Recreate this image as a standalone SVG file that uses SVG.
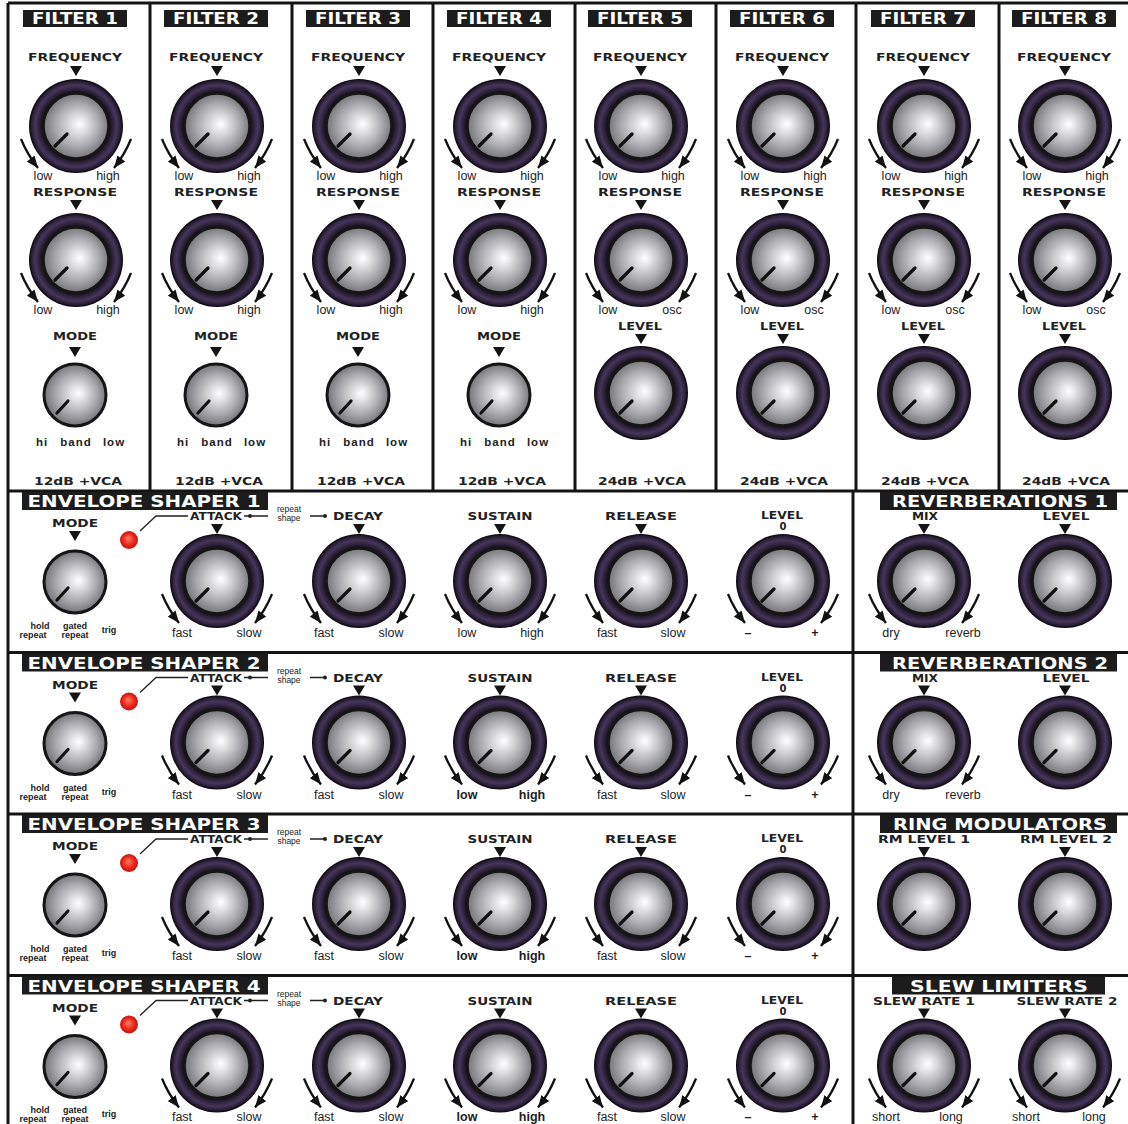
<svg xmlns="http://www.w3.org/2000/svg" width="1128" height="1124" viewBox="0 0 1128 1124">
<style>
.ln{stroke:#141414;stroke-width:3;fill:none}
.hb{fill:#1c1c1c}
.ht{font-family:"DejaVu Sans",sans-serif;font-weight:bold;font-size:15px;fill:#fff;text-anchor:middle}
.lb{font-family:"DejaVu Sans",sans-serif;font-weight:bold;font-size:10px;fill:#222;text-anchor:middle}
.sm{font-family:"Liberation Sans",sans-serif;font-size:12.5px;fill:#1e1e1e;text-anchor:middle}
.smb{font-family:"Liberation Sans",sans-serif;font-size:12.5px;font-weight:bold;fill:#1e1e1e;text-anchor:middle}
.hb2{font-family:"Liberation Sans",sans-serif;font-size:11.5px;font-weight:bold;fill:#222;text-anchor:middle;letter-spacing:1px}
.tiny{font-family:"Liberation Sans",sans-serif;font-size:9px;font-weight:bold;fill:#222;text-anchor:middle}
.tiny2{font-family:"Liberation Sans",sans-serif;font-size:8.5px;fill:#222;text-anchor:middle}
.ar path{stroke:#111;stroke-width:2.3;fill:none;marker-end:url(#ah)}
.cn{stroke:#222;stroke-width:1.3;fill:none}
</style>
<defs>
<radialGradient id="gRing" cx="0.5" cy="0.5" r="0.5">
<stop offset="0.68" stop-color="#0e0a12"/>
<stop offset="0.78" stop-color="#2c2038"/>
<stop offset="0.87" stop-color="#45365a"/>
<stop offset="0.95" stop-color="#281d34"/>
<stop offset="1" stop-color="#060506"/>
</radialGradient>
<radialGradient id="gKnob" cx="0.5" cy="0.5" r="0.55" fx="0.56" fy="0.47">
<stop offset="0" stop-color="#ffffff"/>
<stop offset="0.2" stop-color="#e4e4e6"/>
<stop offset="0.6" stop-color="#a9a9ad"/>
<stop offset="1" stop-color="#66666a"/>
</radialGradient>
<radialGradient id="gLed" cx="0.5" cy="0.5" r="0.5" fx="0.45" fy="0.4">
<stop offset="0" stop-color="#ff8060"/>
<stop offset="0.6" stop-color="#ee2a1e"/>
<stop offset="1" stop-color="#c4140e"/>
</radialGradient>
<marker id="ah" viewBox="0 0 12 10" refX="12" refY="5" markerWidth="12" markerHeight="10" markerUnits="userSpaceOnUse" orient="auto">
<path d="M0,0 L12,5 L0,10 Z" fill="#111"/>
</marker>
<g id="bk">
<circle r="47" fill="url(#gRing)"/>
<circle r="33" fill="url(#gKnob)" stroke="#151515" stroke-width="3.5"/>
<line x1="-9" y1="8" x2="-21" y2="20" stroke="#111" stroke-width="3.2" stroke-linecap="round"/>
</g>
<g id="mk">
<circle r="31" fill="url(#gKnob)" stroke="#151515" stroke-width="3"/>
<line x1="-7" y1="6" x2="-18" y2="18" stroke="#111" stroke-width="3.2" stroke-linecap="round"/>
</g>
<g id="arr" class="ar">
<path d="M-55,13 Q-49,28 -38,42"/>
<path d="M55,13 Q49,28 38,42"/>
</g>
<path id="tri" d="M-6,0 L6,0 L0,10 Z" fill="#141414"/>
</defs>
<rect width="1128" height="1124" fill="#ffffff"/>

<g id="panel-lines">
<path class="ln" d="M8,3 H1128 M8,3 V1124 M150,3 V491 M292,3 V491 M433,3 V491 M575,3 V491 M716,3 V491 M856,3 V491 M999,3 V491"/>
<path class="ln" d="M8,491 H1128 M8,652.5 H1128 M8,814 H1128 M8,975.5 H1128 M853,491 V1124"/>
</g>

<g id="filter1">
<rect class="hb" x="23" y="10" width="104" height="17"/>
<text class="ht" x="75" y="24" textLength="86" lengthAdjust="spacingAndGlyphs">FILTER 1</text>
<text class="lb" x="75" y="61" textLength="94" lengthAdjust="spacingAndGlyphs">FREQUENCY</text>
<use href="#tri" x="76" y="66"/><use href="#bk" x="76" y="126"/><use href="#arr" x="76" y="126"/>
<text class="sm" x="43" y="180">low</text><text class="sm" x="108" y="180">high</text>
<text class="lb" x="75" y="196" textLength="84" lengthAdjust="spacingAndGlyphs">RESPONSE</text>
<use href="#tri" x="76" y="200"/><use href="#bk" x="76" y="260"/><use href="#arr" x="76" y="260"/>
<text class="sm" x="43" y="314">low</text><text class="sm" x="108" y="314">high</text>
<text class="lb" x="75" y="340" textLength="44" lengthAdjust="spacingAndGlyphs">MODE</text>
<use href="#tri" x="75" y="347"/><use href="#mk" x="75" y="395"/>
<text class="hb2" x="42" y="446">hi</text><text class="hb2" x="76" y="446">band</text><text class="hb2" x="114" y="446">low</text>
<text class="lb" x="78" y="485" textLength="88" lengthAdjust="spacingAndGlyphs">12dB +VCA</text>
</g>

<g id="filter2">
<rect class="hb" x="164" y="10" width="104" height="17"/>
<text class="ht" x="216" y="24" textLength="86" lengthAdjust="spacingAndGlyphs">FILTER 2</text>
<text class="lb" x="216" y="61" textLength="94" lengthAdjust="spacingAndGlyphs">FREQUENCY</text>
<use href="#tri" x="217" y="66"/><use href="#bk" x="217" y="126"/><use href="#arr" x="217" y="126"/>
<text class="sm" x="184" y="180">low</text><text class="sm" x="249" y="180">high</text>
<text class="lb" x="216" y="196" textLength="84" lengthAdjust="spacingAndGlyphs">RESPONSE</text>
<use href="#tri" x="217" y="200"/><use href="#bk" x="217" y="260"/><use href="#arr" x="217" y="260"/>
<text class="sm" x="184" y="314">low</text><text class="sm" x="249" y="314">high</text>
<text class="lb" x="216" y="340" textLength="44" lengthAdjust="spacingAndGlyphs">MODE</text>
<use href="#tri" x="216" y="347"/><use href="#mk" x="216" y="395"/>
<text class="hb2" x="183" y="446">hi</text><text class="hb2" x="217" y="446">band</text><text class="hb2" x="255" y="446">low</text>
<text class="lb" x="219" y="485" textLength="88" lengthAdjust="spacingAndGlyphs">12dB +VCA</text>
</g>

<g id="filter3">
<rect class="hb" x="306" y="10" width="104" height="17"/>
<text class="ht" x="358" y="24" textLength="86" lengthAdjust="spacingAndGlyphs">FILTER 3</text>
<text class="lb" x="358" y="61" textLength="94" lengthAdjust="spacingAndGlyphs">FREQUENCY</text>
<use href="#tri" x="359" y="66"/><use href="#bk" x="359" y="126"/><use href="#arr" x="359" y="126"/>
<text class="sm" x="326" y="180">low</text><text class="sm" x="391" y="180">high</text>
<text class="lb" x="358" y="196" textLength="84" lengthAdjust="spacingAndGlyphs">RESPONSE</text>
<use href="#tri" x="359" y="200"/><use href="#bk" x="359" y="260"/><use href="#arr" x="359" y="260"/>
<text class="sm" x="326" y="314">low</text><text class="sm" x="391" y="314">high</text>
<text class="lb" x="358" y="340" textLength="44" lengthAdjust="spacingAndGlyphs">MODE</text>
<use href="#tri" x="358" y="347"/><use href="#mk" x="358" y="395"/>
<text class="hb2" x="325" y="446">hi</text><text class="hb2" x="359" y="446">band</text><text class="hb2" x="397" y="446">low</text>
<text class="lb" x="361" y="485" textLength="88" lengthAdjust="spacingAndGlyphs">12dB +VCA</text>
</g>

<g id="filter4">
<rect class="hb" x="447" y="10" width="104" height="17"/>
<text class="ht" x="499" y="24" textLength="86" lengthAdjust="spacingAndGlyphs">FILTER 4</text>
<text class="lb" x="499" y="61" textLength="94" lengthAdjust="spacingAndGlyphs">FREQUENCY</text>
<use href="#tri" x="500" y="66"/><use href="#bk" x="500" y="126"/><use href="#arr" x="500" y="126"/>
<text class="sm" x="467" y="180">low</text><text class="sm" x="532" y="180">high</text>
<text class="lb" x="499" y="196" textLength="84" lengthAdjust="spacingAndGlyphs">RESPONSE</text>
<use href="#tri" x="500" y="200"/><use href="#bk" x="500" y="260"/><use href="#arr" x="500" y="260"/>
<text class="sm" x="467" y="314">low</text><text class="sm" x="532" y="314">high</text>
<text class="lb" x="499" y="340" textLength="44" lengthAdjust="spacingAndGlyphs">MODE</text>
<use href="#tri" x="499" y="347"/><use href="#mk" x="499" y="395"/>
<text class="hb2" x="466" y="446">hi</text><text class="hb2" x="500" y="446">band</text><text class="hb2" x="538" y="446">low</text>
<text class="lb" x="502" y="485" textLength="88" lengthAdjust="spacingAndGlyphs">12dB +VCA</text>
</g>

<g id="filter5">
<rect class="hb" x="588" y="10" width="104" height="17"/>
<text class="ht" x="640" y="24" textLength="86" lengthAdjust="spacingAndGlyphs">FILTER 5</text>
<text class="lb" x="640" y="61" textLength="94" lengthAdjust="spacingAndGlyphs">FREQUENCY</text>
<use href="#tri" x="641" y="66"/><use href="#bk" x="641" y="126"/><use href="#arr" x="641" y="126"/>
<text class="sm" x="608" y="180">low</text><text class="sm" x="673" y="180">high</text>
<text class="lb" x="640" y="196" textLength="84" lengthAdjust="spacingAndGlyphs">RESPONSE</text>
<use href="#tri" x="641" y="200"/><use href="#bk" x="641" y="260"/><use href="#arr" x="641" y="260"/>
<text class="sm" x="608" y="314">low</text><text class="sm" x="672" y="314">osc</text>
<text class="lb" x="640" y="330" textLength="44" lengthAdjust="spacingAndGlyphs">LEVEL</text>
<use href="#tri" x="641" y="334"/><use href="#bk" x="641" y="393"/>
<text class="lb" x="642" y="485" textLength="88" lengthAdjust="spacingAndGlyphs">24dB +VCA</text>
</g>

<g id="filter6">
<rect class="hb" x="730" y="10" width="104" height="17"/>
<text class="ht" x="782" y="24" textLength="86" lengthAdjust="spacingAndGlyphs">FILTER 6</text>
<text class="lb" x="782" y="61" textLength="94" lengthAdjust="spacingAndGlyphs">FREQUENCY</text>
<use href="#tri" x="783" y="66"/><use href="#bk" x="783" y="126"/><use href="#arr" x="783" y="126"/>
<text class="sm" x="750" y="180">low</text><text class="sm" x="815" y="180">high</text>
<text class="lb" x="782" y="196" textLength="84" lengthAdjust="spacingAndGlyphs">RESPONSE</text>
<use href="#tri" x="783" y="200"/><use href="#bk" x="783" y="260"/><use href="#arr" x="783" y="260"/>
<text class="sm" x="750" y="314">low</text><text class="sm" x="814" y="314">osc</text>
<text class="lb" x="782" y="330" textLength="44" lengthAdjust="spacingAndGlyphs">LEVEL</text>
<use href="#tri" x="783" y="334"/><use href="#bk" x="783" y="393"/>
<text class="lb" x="784" y="485" textLength="88" lengthAdjust="spacingAndGlyphs">24dB +VCA</text>
</g>

<g id="filter7">
<rect class="hb" x="871" y="10" width="104" height="17"/>
<text class="ht" x="923" y="24" textLength="86" lengthAdjust="spacingAndGlyphs">FILTER 7</text>
<text class="lb" x="923" y="61" textLength="94" lengthAdjust="spacingAndGlyphs">FREQUENCY</text>
<use href="#tri" x="924" y="66"/><use href="#bk" x="924" y="126"/><use href="#arr" x="924" y="126"/>
<text class="sm" x="891" y="180">low</text><text class="sm" x="956" y="180">high</text>
<text class="lb" x="923" y="196" textLength="84" lengthAdjust="spacingAndGlyphs">RESPONSE</text>
<use href="#tri" x="924" y="200"/><use href="#bk" x="924" y="260"/><use href="#arr" x="924" y="260"/>
<text class="sm" x="891" y="314">low</text><text class="sm" x="955" y="314">osc</text>
<text class="lb" x="923" y="330" textLength="44" lengthAdjust="spacingAndGlyphs">LEVEL</text>
<use href="#tri" x="924" y="334"/><use href="#bk" x="924" y="393"/>
<text class="lb" x="925" y="485" textLength="88" lengthAdjust="spacingAndGlyphs">24dB +VCA</text>
</g>

<g id="filter8">
<rect class="hb" x="1012" y="10" width="104" height="17"/>
<text class="ht" x="1064" y="24" textLength="86" lengthAdjust="spacingAndGlyphs">FILTER 8</text>
<text class="lb" x="1064" y="61" textLength="94" lengthAdjust="spacingAndGlyphs">FREQUENCY</text>
<use href="#tri" x="1065" y="66"/><use href="#bk" x="1065" y="126"/><use href="#arr" x="1065" y="126"/>
<text class="sm" x="1032" y="180">low</text><text class="sm" x="1097" y="180">high</text>
<text class="lb" x="1064" y="196" textLength="84" lengthAdjust="spacingAndGlyphs">RESPONSE</text>
<use href="#tri" x="1065" y="200"/><use href="#bk" x="1065" y="260"/><use href="#arr" x="1065" y="260"/>
<text class="sm" x="1032" y="314">low</text><text class="sm" x="1096" y="314">osc</text>
<text class="lb" x="1064" y="330" textLength="44" lengthAdjust="spacingAndGlyphs">LEVEL</text>
<use href="#tri" x="1065" y="334"/><use href="#bk" x="1065" y="393"/>
<text class="lb" x="1066" y="485" textLength="88" lengthAdjust="spacingAndGlyphs">24dB +VCA</text>
</g>

<g id="envelope1">
<rect class="hb" x="22" y="492" width="246" height="18"/>
<text class="ht" x="144" y="507" textLength="233" lengthAdjust="spacingAndGlyphs">ENVELOPE SHAPER 1</text>
<text class="lb" x="75" y="527" textLength="46" lengthAdjust="spacingAndGlyphs">MODE</text>
<use href="#tri" x="75" y="531"/><use href="#mk" x="75" y="582"/>
<text class="tiny" x="40" y="629">hold</text><text class="tiny" x="33" y="638">repeat</text>
<text class="tiny" x="75" y="629">gated</text><text class="tiny" x="75" y="638">repeat</text>
<text class="tiny" x="109" y="633">trig</text>
<circle cx="129" cy="540" r="9" fill="url(#gLed)"/>
<text class="lb" x="216" y="520" textLength="52" lengthAdjust="spacingAndGlyphs">ATTACK</text>
<text class="tiny2" x="289" y="512">repeat</text><text class="tiny2" x="289" y="521">shape</text>
<text class="lb" x="358" y="520" textLength="50" lengthAdjust="spacingAndGlyphs">DECAY</text>
<text class="lb" x="500" y="520" textLength="65" lengthAdjust="spacingAndGlyphs">SUSTAIN</text>
<text class="lb" x="641" y="520" textLength="72" lengthAdjust="spacingAndGlyphs">RELEASE</text>
<text class="lb" x="782" y="519" textLength="42" lengthAdjust="spacingAndGlyphs">LEVEL</text>
<text class="lb" x="783" y="530">0</text>
<use href="#tri" x="217" y="524"/><use href="#tri" x="359" y="524"/><use href="#tri" x="500" y="524"/><use href="#tri" x="641" y="524"/>
<use href="#bk" x="217" y="581"/><use href="#arr" x="217" y="581"/>
<use href="#bk" x="359" y="581"/><use href="#arr" x="359" y="581"/>
<use href="#bk" x="500" y="581"/><use href="#arr" x="500" y="581"/>
<use href="#bk" x="641" y="581"/><use href="#arr" x="641" y="581"/>
<use href="#bk" x="783" y="581"/><use href="#arr" x="783" y="581"/>
<text class="sm" x="182" y="637">fast</text><text class="sm" x="249" y="637">slow</text>
<text class="sm" x="324" y="637">fast</text><text class="sm" x="391" y="637">slow</text>
<text class="sm" x="467" y="637">low</text><text class="sm" x="532" y="637">high</text>
<text class="sm" x="607" y="637">fast</text><text class="sm" x="673" y="637">slow</text>
<text class="smb" x="748" y="637">–</text><text class="smb" x="815" y="637">+</text>
</g>

<g id="envelope2">
<rect class="hb" x="22" y="653.5" width="246" height="18"/>
<text class="ht" x="144" y="668.5" textLength="233" lengthAdjust="spacingAndGlyphs">ENVELOPE SHAPER 2</text>
<text class="lb" x="75" y="688.5" textLength="46" lengthAdjust="spacingAndGlyphs">MODE</text>
<use href="#tri" x="75" y="692.5"/><use href="#mk" x="75" y="743.5"/>
<text class="tiny" x="40" y="790.5">hold</text><text class="tiny" x="33" y="799.5">repeat</text>
<text class="tiny" x="75" y="790.5">gated</text><text class="tiny" x="75" y="799.5">repeat</text>
<text class="tiny" x="109" y="794.5">trig</text>
<circle cx="129" cy="701.5" r="9" fill="url(#gLed)"/>
<text class="lb" x="216" y="681.5" textLength="52" lengthAdjust="spacingAndGlyphs">ATTACK</text>
<text class="tiny2" x="289" y="673.5">repeat</text><text class="tiny2" x="289" y="682.5">shape</text>
<text class="lb" x="358" y="681.5" textLength="50" lengthAdjust="spacingAndGlyphs">DECAY</text>
<text class="lb" x="500" y="681.5" textLength="65" lengthAdjust="spacingAndGlyphs">SUSTAIN</text>
<text class="lb" x="641" y="681.5" textLength="72" lengthAdjust="spacingAndGlyphs">RELEASE</text>
<text class="lb" x="782" y="680.5" textLength="42" lengthAdjust="spacingAndGlyphs">LEVEL</text>
<text class="lb" x="783" y="691.5">0</text>
<use href="#tri" x="217" y="685.5"/><use href="#tri" x="359" y="685.5"/><use href="#tri" x="500" y="685.5"/><use href="#tri" x="641" y="685.5"/>
<use href="#bk" x="217" y="742.5"/><use href="#arr" x="217" y="742.5"/>
<use href="#bk" x="359" y="742.5"/><use href="#arr" x="359" y="742.5"/>
<use href="#bk" x="500" y="742.5"/><use href="#arr" x="500" y="742.5"/>
<use href="#bk" x="641" y="742.5"/><use href="#arr" x="641" y="742.5"/>
<use href="#bk" x="783" y="742.5"/><use href="#arr" x="783" y="742.5"/>
<text class="sm" x="182" y="798.5">fast</text><text class="sm" x="249" y="798.5">slow</text>
<text class="sm" x="324" y="798.5">fast</text><text class="sm" x="391" y="798.5">slow</text>
<text class="smb" x="467" y="798.5">low</text><text class="smb" x="532" y="798.5">high</text>
<text class="sm" x="607" y="798.5">fast</text><text class="sm" x="673" y="798.5">slow</text>
<text class="smb" x="748" y="798.5">–</text><text class="smb" x="815" y="798.5">+</text>
</g>

<g id="envelope3">
<rect class="hb" x="22" y="815" width="246" height="18"/>
<text class="ht" x="144" y="830" textLength="233" lengthAdjust="spacingAndGlyphs">ENVELOPE SHAPER 3</text>
<text class="lb" x="75" y="850" textLength="46" lengthAdjust="spacingAndGlyphs">MODE</text>
<use href="#tri" x="75" y="854"/><use href="#mk" x="75" y="905"/>
<text class="tiny" x="40" y="952">hold</text><text class="tiny" x="33" y="961">repeat</text>
<text class="tiny" x="75" y="952">gated</text><text class="tiny" x="75" y="961">repeat</text>
<text class="tiny" x="109" y="956">trig</text>
<circle cx="129" cy="863" r="9" fill="url(#gLed)"/>
<text class="lb" x="216" y="843" textLength="52" lengthAdjust="spacingAndGlyphs">ATTACK</text>
<text class="tiny2" x="289" y="835">repeat</text><text class="tiny2" x="289" y="844">shape</text>
<text class="lb" x="358" y="843" textLength="50" lengthAdjust="spacingAndGlyphs">DECAY</text>
<text class="lb" x="500" y="843" textLength="65" lengthAdjust="spacingAndGlyphs">SUSTAIN</text>
<text class="lb" x="641" y="843" textLength="72" lengthAdjust="spacingAndGlyphs">RELEASE</text>
<text class="lb" x="782" y="842" textLength="42" lengthAdjust="spacingAndGlyphs">LEVEL</text>
<text class="lb" x="783" y="853">0</text>
<use href="#tri" x="217" y="847"/><use href="#tri" x="359" y="847"/><use href="#tri" x="500" y="847"/><use href="#tri" x="641" y="847"/>
<use href="#bk" x="217" y="904"/><use href="#arr" x="217" y="904"/>
<use href="#bk" x="359" y="904"/><use href="#arr" x="359" y="904"/>
<use href="#bk" x="500" y="904"/><use href="#arr" x="500" y="904"/>
<use href="#bk" x="641" y="904"/><use href="#arr" x="641" y="904"/>
<use href="#bk" x="783" y="904"/><use href="#arr" x="783" y="904"/>
<text class="sm" x="182" y="960">fast</text><text class="sm" x="249" y="960">slow</text>
<text class="sm" x="324" y="960">fast</text><text class="sm" x="391" y="960">slow</text>
<text class="smb" x="467" y="960">low</text><text class="smb" x="532" y="960">high</text>
<text class="sm" x="607" y="960">fast</text><text class="sm" x="673" y="960">slow</text>
<text class="smb" x="748" y="960">–</text><text class="smb" x="815" y="960">+</text>
</g>

<g id="envelope4">
<rect class="hb" x="22" y="976.5" width="246" height="18"/>
<text class="ht" x="144" y="991.5" textLength="233" lengthAdjust="spacingAndGlyphs">ENVELOPE SHAPER 4</text>
<text class="lb" x="75" y="1011.5" textLength="46" lengthAdjust="spacingAndGlyphs">MODE</text>
<use href="#tri" x="75" y="1015.5"/><use href="#mk" x="75" y="1066.5"/>
<text class="tiny" x="40" y="1113">hold</text><text class="tiny" x="33" y="1122">repeat</text>
<text class="tiny" x="75" y="1113">gated</text><text class="tiny" x="75" y="1122">repeat</text>
<text class="tiny" x="109" y="1117">trig</text>
<circle cx="129" cy="1024.5" r="9" fill="url(#gLed)"/>
<text class="lb" x="216" y="1004.5" textLength="52" lengthAdjust="spacingAndGlyphs">ATTACK</text>
<text class="tiny2" x="289" y="996.5">repeat</text><text class="tiny2" x="289" y="1005.5">shape</text>
<text class="lb" x="358" y="1004.5" textLength="50" lengthAdjust="spacingAndGlyphs">DECAY</text>
<text class="lb" x="500" y="1004.5" textLength="65" lengthAdjust="spacingAndGlyphs">SUSTAIN</text>
<text class="lb" x="641" y="1004.5" textLength="72" lengthAdjust="spacingAndGlyphs">RELEASE</text>
<text class="lb" x="782" y="1003.5" textLength="42" lengthAdjust="spacingAndGlyphs">LEVEL</text>
<text class="lb" x="783" y="1014.5">0</text>
<use href="#tri" x="217" y="1008.5"/><use href="#tri" x="359" y="1008.5"/><use href="#tri" x="500" y="1008.5"/><use href="#tri" x="641" y="1008.5"/>
<use href="#bk" x="217" y="1065.5"/><use href="#arr" x="217" y="1065.5"/>
<use href="#bk" x="359" y="1065.5"/><use href="#arr" x="359" y="1065.5"/>
<use href="#bk" x="500" y="1065.5"/><use href="#arr" x="500" y="1065.5"/>
<use href="#bk" x="641" y="1065.5"/><use href="#arr" x="641" y="1065.5"/>
<use href="#bk" x="783" y="1065.5"/><use href="#arr" x="783" y="1065.5"/>
<text class="sm" x="182" y="1121">fast</text><text class="sm" x="249" y="1121">slow</text>
<text class="sm" x="324" y="1121">fast</text><text class="sm" x="391" y="1121">slow</text>
<text class="smb" x="467" y="1121">low</text><text class="smb" x="532" y="1121">high</text>
<text class="sm" x="607" y="1121">fast</text><text class="sm" x="673" y="1121">slow</text>
<text class="smb" x="748" y="1121">–</text><text class="smb" x="815" y="1121">+</text>
</g>

<g id="reverb1">
<rect class="hb" x="880" y="492" width="237" height="18"/>
<text class="ht" x="1000" y="507" textLength="216" lengthAdjust="spacingAndGlyphs">REVERBERATIONS 1</text>
<text class="lb" x="925" y="520" textLength="26" lengthAdjust="spacingAndGlyphs">MIX</text>
<text class="lb" x="1066" y="520" textLength="47" lengthAdjust="spacingAndGlyphs">LEVEL</text>
<use href="#tri" x="924" y="524"/><use href="#tri" x="1065" y="524"/>
<use href="#bk" x="924" y="581"/><use href="#arr" x="924" y="581"/>
<use href="#bk" x="1065" y="581"/>
<text class="sm" x="891" y="637">dry</text><text class="sm" x="963" y="637">reverb</text>
</g>

<g id="reverb2">
<rect class="hb" x="880" y="653.5" width="237" height="18"/>
<text class="ht" x="1000" y="668.5" textLength="216" lengthAdjust="spacingAndGlyphs">REVERBERATIONS 2</text>
<text class="lb" x="925" y="681.5" textLength="26" lengthAdjust="spacingAndGlyphs">MIX</text>
<text class="lb" x="1066" y="681.5" textLength="47" lengthAdjust="spacingAndGlyphs">LEVEL</text>
<use href="#tri" x="924" y="685.5"/><use href="#tri" x="1065" y="685.5"/>
<use href="#bk" x="924" y="742.5"/><use href="#arr" x="924" y="742.5"/>
<use href="#bk" x="1065" y="742.5"/>
<text class="sm" x="891" y="798.5">dry</text><text class="sm" x="963" y="798.5">reverb</text>
</g>

<g id="ring-modulators">
<rect class="hb" x="880" y="815" width="237" height="18"/>
<text class="ht" x="1000" y="830" textLength="214" lengthAdjust="spacingAndGlyphs">RING MODULATORS</text>
<text class="lb" x="924" y="843" textLength="92" lengthAdjust="spacingAndGlyphs">RM LEVEL 1</text>
<text class="lb" x="1066" y="843" textLength="92" lengthAdjust="spacingAndGlyphs">RM LEVEL 2</text>
<use href="#tri" x="924" y="847"/><use href="#tri" x="1065" y="847"/>
<use href="#bk" x="924" y="904"/><use href="#bk" x="1065" y="904"/>
</g>

<g id="slew-limiters">
<rect class="hb" x="892" y="976.5" width="213" height="18"/>
<text class="ht" x="999" y="991.5" textLength="178" lengthAdjust="spacingAndGlyphs">SLEW LIMITERS</text>
<text class="lb" x="924" y="1004.5" textLength="102" lengthAdjust="spacingAndGlyphs">SLEW RATE 1</text>
<text class="lb" x="1067" y="1004.5" textLength="101" lengthAdjust="spacingAndGlyphs">SLEW RATE 2</text>
<use href="#tri" x="924" y="1008.5"/><use href="#tri" x="1065" y="1008.5"/>
<use href="#bk" x="924" y="1065.5"/><use href="#arr" x="924" y="1065.5"/>
<use href="#bk" x="1065" y="1065.5"/><use href="#arr" x="1065" y="1065.5"/>
<text class="sm" x="886" y="1121">short</text><text class="sm" x="951" y="1121">long</text>
<text class="sm" x="1026" y="1121">short</text><text class="sm" x="1094" y="1121">long</text>
</g>

<g id="connectors">
<path class="cn" d="M140,531 L156,516 H188 M244,516 H268 M310,516 H325"/>
<circle cx="250" cy="516" r="2" fill="#222"/><circle cx="325" cy="516" r="2" fill="#222"/>
<path class="cn" d="M140,692.5 L156,677.5 H188 M244,677.5 H268 M310,677.5 H325"/>
<circle cx="250" cy="677.5" r="2" fill="#222"/><circle cx="325" cy="677.5" r="2" fill="#222"/>
<path class="cn" d="M140,854 L156,839 H188 M244,839 H268 M310,839 H325"/>
<circle cx="250" cy="839" r="2" fill="#222"/><circle cx="325" cy="839" r="2" fill="#222"/>
<path class="cn" d="M140,1015.5 L156,1000.5 H188 M244,1000.5 H268 M310,1000.5 H325"/>
<circle cx="250" cy="1000.5" r="2" fill="#222"/><circle cx="325" cy="1000.5" r="2" fill="#222"/>
</g>
</svg>
